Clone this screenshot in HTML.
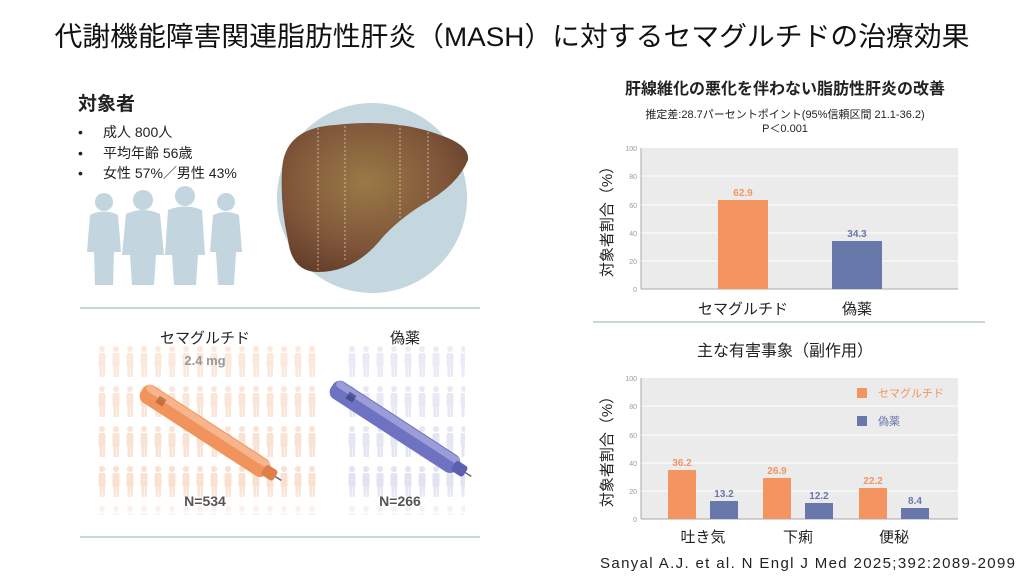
<!DOCTYPE html>
<html><head><meta charset="utf-8"><style>
html,body{margin:0;padding:0;background:#fff;}
svg{display:block;font-family:"Liberation Sans","Noto Sans CJK JP",sans-serif;}
</style></head><body>
<svg width="1024" height="576" viewBox="0 0 1024 576" xmlns="http://www.w3.org/2000/svg">
<defs>
<pattern id="po" x="95" y="345" width="14" height="40" patternUnits="userSpaceOnUse">
<circle cx="7" cy="4" r="3" fill="#f9dccb"/><rect x="3.5" y="8" width="7" height="14" rx="2" fill="#f9dccb"/><rect x="4.5" y="20" width="2.5" height="12" fill="#f9dccb"/><rect x="7.5" y="20" width="2.5" height="12" fill="#f9dccb"/>
</pattern>
<pattern id="pb" x="345" y="345" width="14" height="40" patternUnits="userSpaceOnUse">
<circle cx="7" cy="4" r="3" fill="#dfe0f0"/><rect x="3.5" y="8" width="7" height="14" rx="2" fill="#dfe0f0"/><rect x="4.5" y="20" width="2.5" height="12" fill="#dfe0f0"/><rect x="7.5" y="20" width="2.5" height="12" fill="#dfe0f0"/>
</pattern>
<linearGradient id="fo" x1="0" y1="0" x2="0" y2="1"><stop offset="0" stop-color="#fff" stop-opacity="0.4"/><stop offset="0.8" stop-color="#fff" stop-opacity="0.1"/><stop offset="1" stop-color="#fff" stop-opacity="0.8"/></linearGradient>
<radialGradient id="lv" cx="0.45" cy="0.4" r="0.7"><stop offset="0" stop-color="#9a7a45"/><stop offset="0.6" stop-color="#80563a"/><stop offset="1" stop-color="#5e3a28"/></radialGradient>
</defs>

<text x="512" y="46" text-anchor="middle" font-size="27" fill="#111" textLength="915" lengthAdjust="spacingAndGlyphs">代謝機能障害関連脂肪性肝炎（MASH）に対するセマグルチドの治療効果</text>

<!-- left top -->
<text x="78" y="110" font-size="19" font-weight="bold" fill="#222">対象者</text>
<g font-size="14" fill="#222">
<text x="78" y="137">•</text><text x="103" y="137">成人 800人</text>
<text x="78" y="158">•</text><text x="103" y="158">平均年齢 56歳</text>
<text x="78" y="178">•</text><text x="103" y="178">女性 57%／男性 43%</text>
</g>
<g fill="#c3d5de">
<circle cx="104" cy="202" r="9"/><path d="M90 215 Q104 208 118 215 L121 252 L114 252 L113 285 L95 285 L94 252 L87 252Z"/>
<circle cx="143" cy="200" r="10"/><path d="M126 214 Q143 206 160 214 L164 255 L156 255 L154 285 L132 285 L130 255 L122 255Z"/>
<circle cx="185" cy="196" r="10"/><path d="M168 210 Q185 203 202 210 L205 255 L198 255 L196 285 L174 285 L172 255 L165 255Z"/>
<circle cx="226" cy="202" r="9"/><path d="M213 215 Q226 209 239 215 L242 252 L236 252 L234 285 L218 285 L216 252 L210 252Z"/>
</g>
<circle cx="372" cy="198" r="95" fill="#c4d7de"/>
<path d="M282 170 Q284 128 335 125 Q395 118 440 135 Q470 145 468 160 Q458 185 422 205 Q398 220 382 238 Q355 272 318 272 Q292 272 288 240 Q280 205 282 170Z" fill="url(#lv)"/>
<g stroke="#e8d8c0" stroke-width="1" stroke-dasharray="2,2" opacity="0.7"><line x1="318" y1="128" x2="318" y2="270"/><line x1="345" y1="126" x2="345" y2="262"/><line x1="400" y1="124" x2="400" y2="218"/><line x1="428" y1="132" x2="428" y2="200"/></g>

<line x1="80" y1="308" x2="480" y2="308" stroke="#c9d6dc" stroke-width="2"/>
<line x1="80" y1="537" x2="480" y2="537" stroke="#c9d6dc" stroke-width="2"/>

<!-- left bottom -->
<rect x="95" y="345" width="225" height="170" fill="url(#po)"/>
<rect x="345" y="345" width="120" height="170" fill="url(#pb)"/>
<rect x="90" y="340" width="380" height="180" fill="url(#fo)"/>
<text x="205" y="343" text-anchor="middle" font-size="15" fill="#222">セマグルチド</text>
<text x="405" y="343" text-anchor="middle" font-size="15" fill="#222">偽薬</text>
<text x="205" y="365" text-anchor="middle" font-size="13" font-weight="bold" fill="#999">2.4 mg</text>
<g transform="translate(142,390) rotate(33)">
<rect x="0" y="-10" width="150" height="20" rx="8" fill="#f0945c"/><rect x="2" y="-9" width="146" height="7" rx="4" fill="#f6b58c"/>
<rect x="18" y="-5" width="8" height="8" fill="#b65c2e" opacity="0.7"/>
<rect x="145" y="-6" width="14" height="12" rx="3" fill="#e07f47"/><line x1="159" y1="0" x2="166" y2="0" stroke="#666" stroke-width="1.5"/>
</g>
<g transform="translate(332,386) rotate(33)">
<rect x="0" y="-10" width="150" height="20" rx="8" fill="#6f72c0"/><rect x="2" y="-9" width="146" height="7" rx="4" fill="#9a9dd8"/>
<rect x="18" y="-5" width="8" height="8" fill="#3a3d80" opacity="0.7"/>
<rect x="145" y="-6" width="14" height="12" rx="3" fill="#5d60ae"/><line x1="159" y1="0" x2="166" y2="0" stroke="#666" stroke-width="1.5"/>
</g>
<text x="205" y="506" text-anchor="middle" font-size="14" font-weight="bold" fill="#555">N=534</text>
<text x="400" y="506" text-anchor="middle" font-size="14" font-weight="bold" fill="#555">N=266</text>

<!-- chart 1 -->
<text x="785" y="94" text-anchor="middle" font-size="16" font-weight="bold" fill="#222">肝線維化の悪化を伴わない脂肪性肝炎の改善</text>
<text x="785" y="118" text-anchor="middle" font-size="11" fill="#222">推定差:28.7パーセントポイント(95%信頼区間 21.1-36.2)</text>
<text x="785" y="132" text-anchor="middle" font-size="11" fill="#222">P＜0.001</text>
<rect x="641" y="148" width="317" height="141" fill="#ebebeb"/>
<g stroke="#fff" stroke-width="1"><line x1="641" y1="176" x2="958" y2="176"/><line x1="641" y1="205" x2="958" y2="205"/><line x1="641" y1="233" x2="958" y2="233"/><line x1="641" y1="261" x2="958" y2="261"/></g>
<line x1="641" y1="148" x2="641" y2="289" stroke="#aaa"/><line x1="641" y1="289" x2="958" y2="289" stroke="#aaa"/>
<g font-size="7" fill="#999" text-anchor="end"><text x="637" y="151">100</text><text x="637" y="179">80</text><text x="637" y="208">60</text><text x="637" y="236">40</text><text x="637" y="264">20</text><text x="637" y="292">0</text></g>
<rect x="718" y="200" width="50" height="89" fill="#f39461"/>
<rect x="832" y="241" width="50" height="48" fill="#6878ab"/>
<text x="743" y="196" text-anchor="middle" font-size="10" font-weight="bold" fill="#f39461">62.9</text>
<text x="857" y="237" text-anchor="middle" font-size="10" font-weight="bold" fill="#6878ab">34.3</text>
<text x="743" y="314" text-anchor="middle" font-size="15" fill="#222">セマグルチド</text>
<text x="857" y="314" text-anchor="middle" font-size="15" fill="#222">偽薬</text>
<text transform="translate(612,218) rotate(-90)" text-anchor="middle" font-size="15" fill="#222">対象者割合（%）</text>
<line x1="593" y1="322" x2="985" y2="322" stroke="#c9d6dc" stroke-width="2"/>

<!-- chart 2 -->
<text x="785" y="356" text-anchor="middle" font-size="16" fill="#222">主な有害事象（副作用）</text>
<rect x="641" y="378" width="317" height="141" fill="#ebebeb"/>
<g stroke="#fff" stroke-width="1"><line x1="641" y1="406" x2="958" y2="406"/><line x1="641" y1="435" x2="958" y2="435"/><line x1="641" y1="463" x2="958" y2="463"/><line x1="641" y1="491" x2="958" y2="491"/></g>
<line x1="641" y1="378" x2="641" y2="519" stroke="#aaa"/><line x1="641" y1="519" x2="958" y2="519" stroke="#aaa"/>
<g font-size="7" fill="#999" text-anchor="end"><text x="637" y="381">100</text><text x="637" y="409">80</text><text x="637" y="438">60</text><text x="637" y="466">40</text><text x="637" y="494">20</text><text x="637" y="522">0</text></g>
<g fill="#f39461"><rect x="668" y="470" width="28" height="49"/><rect x="763" y="478" width="28" height="41"/><rect x="859" y="488" width="28" height="31"/></g>
<g fill="#6878ab"><rect x="710" y="501" width="28" height="18"/><rect x="805" y="503" width="28" height="16"/><rect x="901" y="508" width="28" height="11"/></g>
<g font-size="10" font-weight="bold" text-anchor="middle">
<text x="682" y="466" fill="#f39461">36.2</text><text x="777" y="474" fill="#f39461">26.9</text><text x="873" y="484" fill="#f39461">22.2</text>
<text x="724" y="497" fill="#6878ab">13.2</text><text x="819" y="499" fill="#6878ab">12.2</text><text x="915" y="504" fill="#6878ab">8.4</text>
</g>
<rect x="857" y="388" width="10" height="10" fill="#f39461"/><text x="878" y="397" font-size="11" fill="#f39461">セマグルチド</text>
<rect x="857" y="416" width="10" height="10" fill="#6878ab"/><text x="878" y="425" font-size="11" fill="#6878ab">偽薬</text>
<text x="703" y="542" text-anchor="middle" font-size="15" fill="#222">吐き気</text>
<text x="798" y="542" text-anchor="middle" font-size="15" fill="#222">下痢</text>
<text x="894" y="542" text-anchor="middle" font-size="15" fill="#222">便秘</text>
<text transform="translate(612,448) rotate(-90)" text-anchor="middle" font-size="15" fill="#222">対象者割合（%）</text>
<text x="600" y="568" font-size="15" fill="#222" textLength="415" lengthAdjust="spacing">Sanyal A.J. et al. N Engl J Med 2025;392:2089-2099</text>
</svg>
</body></html>
